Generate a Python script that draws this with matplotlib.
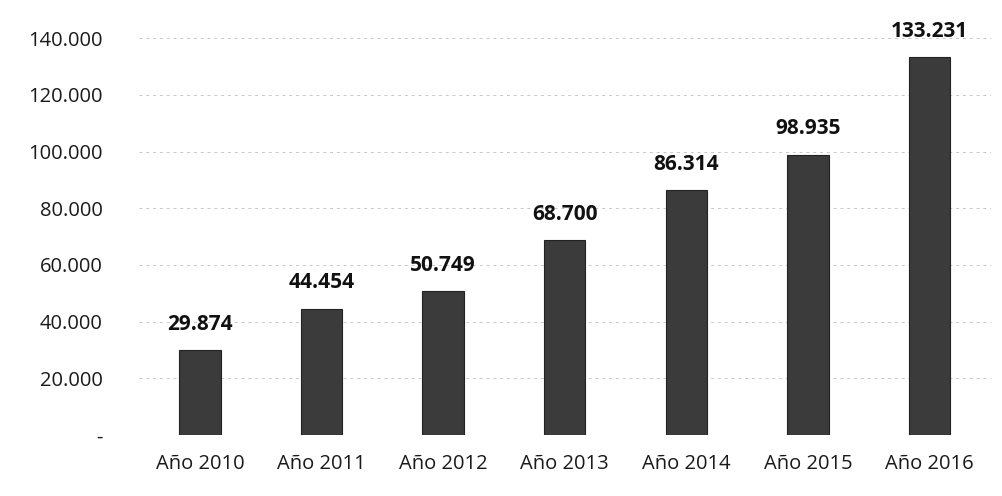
import numpy as np
import matplotlib
matplotlib.use('Agg')
import matplotlib.pyplot as plt

anios = ['Año 2010', 'Año 2011', 'Año 2012', 'Año 2013', 'Año 2014', 'Año 2015', 'Año 2016']
valores = [29874, 44454, 50749, 68700, 86314, 98935, 133231]
ticks_y = [0, 20000, 40000, 60000, 80000, 100000, 120000, 140000]

def miles(v):
	if v == 0:
		return '-'
	return '{:,}'.format(int(v)).replace(',', '.')

plt.rcParams['font.family'] = ['Open Sans', 'DejaVu Sans']

fig = plt.figure(figsize=(10.03, 4.96), dpi=100)
ax = fig.add_axes([0.1386, 0.123, 0.849, 0.800])

x = np.arange(len(anios))
ax.bar(x, valores, width=0.34, color='#3b3b3b', edgecolor='#222222', linewidth=0.8, zorder=3)

for xi, v in zip(x, valores):
	ax.text(xi, v + 5500, miles(v), ha='center', va='bottom', fontsize=15,
		fontweight='bold', color='#111111', clip_on=False)

ax.set_xlim(-0.5, 6.5)
ax.set_ylim(0, 140000)
ax.set_yticks(ticks_y)
ax.set_yticklabels([miles(t) for t in ticks_y])
ax.set_xticks(x)
ax.set_xticklabels(anios)
ax.tick_params(axis='both', length=0, labelsize=14.5, colors='#1a1a1a')
ax.tick_params(axis='y', pad=26)
ax.tick_params(axis='x', pad=14)
ax.yaxis.grid(True, color='#c8c8c8', linestyle=(0, (3, 4)), linewidth=0.7, zorder=0)
for s in ax.spines.values():
	s.set_visible(False)

plt.savefig('out.png', dpi=100)
